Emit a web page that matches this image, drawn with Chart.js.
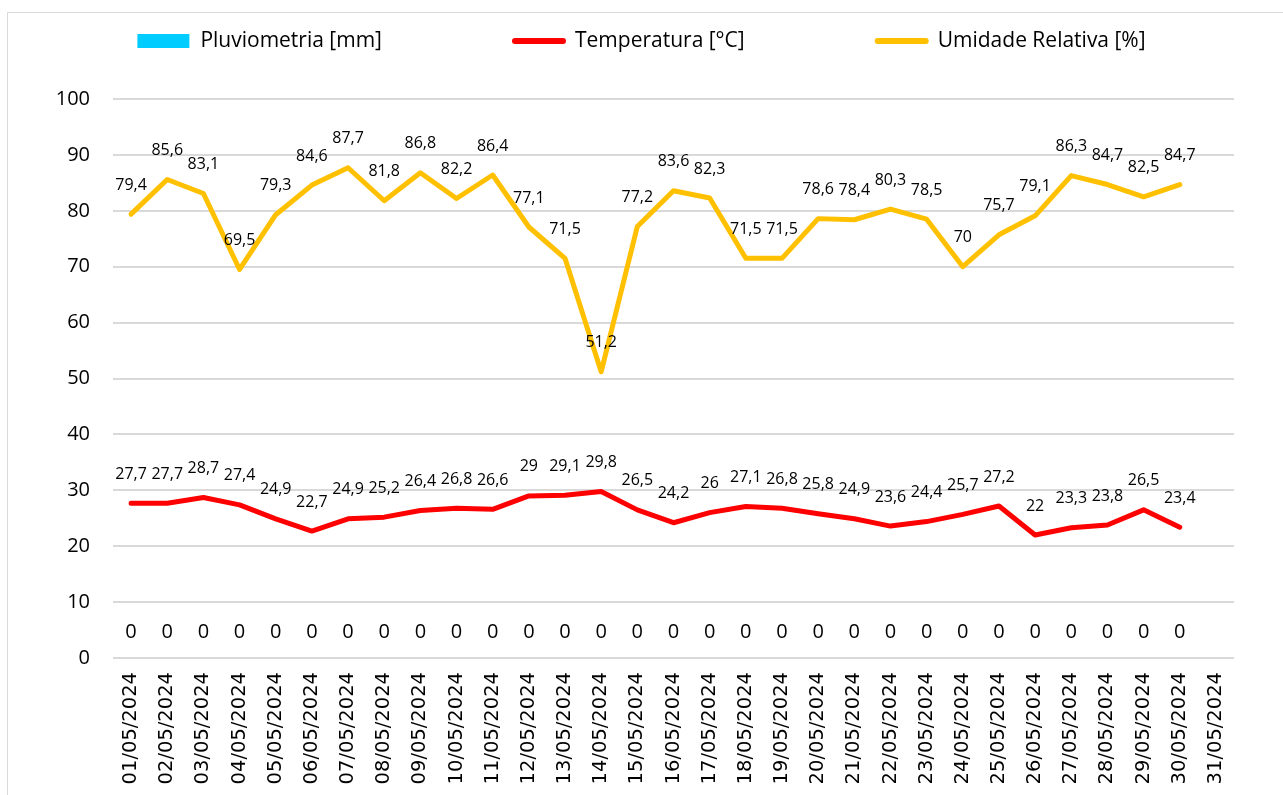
<!DOCTYPE html>
<html>
<head>
<meta charset="utf-8">
<script src="https://cdn.jsdelivr.net/npm/chart.js@4.4.1/dist/chart.umd.min.js"></script>
<style>
  html, body { margin: 0; padding: 0; background: #fff; }
  canvas { display: block; }
</style>
</head>
<body>
<canvas id="climaChart" width="1283" height="795"></canvas>
<script>
var dias = ["01/05/2024", "02/05/2024", "03/05/2024", "04/05/2024", "05/05/2024", "06/05/2024",
  "07/05/2024", "08/05/2024", "09/05/2024", "10/05/2024", "11/05/2024", "12/05/2024",
  "13/05/2024", "14/05/2024", "15/05/2024", "16/05/2024", "17/05/2024", "18/05/2024",
  "19/05/2024", "20/05/2024", "21/05/2024", "22/05/2024", "23/05/2024", "24/05/2024",
  "25/05/2024", "26/05/2024", "27/05/2024", "28/05/2024", "29/05/2024", "30/05/2024", "31/05/2024"];

var pluviometria = [0, 0, 0, 0, 0, 0, 0, 0, 0, 0, 0, 0, 0, 0, 0,
  0, 0, 0, 0, 0, 0, 0, 0, 0, 0, 0, 0, 0, 0, 0, null];

var temperatura = [27.7, 27.7, 28.7, 27.4, 24.9, 22.7, 24.9, 25.2, 26.4, 26.8, 26.6, 29, 29.1, 29.8, 26.5,
  24.2, 26, 27.1, 26.8, 25.8, 24.9, 23.6, 24.4, 25.7, 27.2, 22, 23.3, 23.8, 26.5, 23.4, null];

var umidade = [79.4, 85.6, 83.1, 69.5, 79.3, 84.6, 87.7, 81.8, 86.8, 82.2, 86.4, 77.1, 71.5, 51.2, 77.2,
  83.6, 82.3, 71.5, 71.5, 78.6, 78.4, 80.3, 78.5, 70, 75.7, 79.1, 86.3, 84.7, 82.5, 84.7, null];

// rotulos de dados acima de cada ponto / barra
var rotulos = {
  id: "rotulos",
  afterDatasetsDraw: function (chart) {
    var ctx = chart.ctx;
    ctx.save();
    ctx.fillStyle = "#000";
    ctx.textAlign = "center";
    ctx.textBaseline = "middle";
    chart.data.datasets.forEach(function (ds, i) {
      var meta = chart.getDatasetMeta(i);
      var barra = ds.type === "bar";
      ctx.font = barra ? "20px 'Open Sans'" : "16px 'Open Sans'";
      var desloc = barra ? 26 : 29;
      meta.data.forEach(function (el, j) {
        var v = ds.data[j];
        if (v === null || v === undefined) return;
        ctx.fillText(String(v).replace(".", ","), el.x, el.y - desloc);
      });
    });
    ctx.restore();
  }
};

// legenda no topo + moldura cinza
var legenda = {
  id: "legenda",
  beforeDraw: function (chart) {
    var ctx = chart.ctx;
    ctx.save();
    ctx.strokeStyle = "#d9d9d9";
    ctx.lineWidth = 1;
    ctx.beginPath();
    ctx.moveTo(7.5, chart.height);
    ctx.lineTo(7.5, 12.5);
    ctx.lineTo(chart.width, 12.5);
    ctx.stroke();
    ctx.restore();
  },
  afterDraw: function (chart) {
    var ctx = chart.ctx;
    ctx.save();
    ctx.font = "21px 'Open Sans'";
    ctx.textBaseline = "middle";
    var sw = 54, gapTexto = 9, gapItem = 130, y = 41;
    var itens = chart.data.datasets;
    var total = 0;
    itens.forEach(function (ds, i) {
      total += sw + gapTexto + ctx.measureText(ds.label).width;
      if (i > 0) total += gapItem;
    });
    var x = (chart.width - total) / 2;
    itens.forEach(function (ds) {
      if (ds.type === "bar") {
        ctx.fillStyle = ds.backgroundColor;
        ctx.fillRect(x, y - 7, sw - 2, 14);
      } else {
        ctx.strokeStyle = ds.borderColor;
        ctx.lineWidth = 6;
        ctx.lineCap = "round";
        ctx.beginPath();
        ctx.moveTo(x + 3, y);
        ctx.lineTo(x + sw - 3, y);
        ctx.stroke();
      }
      ctx.fillStyle = "#000";
      ctx.fillText(ds.label, x + sw + gapTexto, y);
      x += sw + gapTexto + ctx.measureText(ds.label).width + gapItem;
    });
    ctx.restore();
  }
};

var ctx = document.getElementById("climaChart").getContext("2d");
var climaChart = new Chart(ctx, {
  type: "bar",
  data: {
    labels: dias,
    datasets: [
      {
        type: "bar",
        label: "Pluviometria [mm]",
        data: pluviometria,
        backgroundColor: "#00CCFF",
        borderWidth: 0,
      },
      {
        type: "line",
        label: "Temperatura [°C]",
        data: temperatura,
        borderColor: "#FF0000",
        backgroundColor: "#FF0000",
        borderWidth: 5,
        pointRadius: 0,
        tension: 0,
        borderCapStyle: "round",
        borderJoinStyle: "round",
      },
      {
        type: "line",
        label: "Umidade Relativa [%]",
        data: umidade,
        borderColor: "#FFC000",
        backgroundColor: "#FFC000",
        borderWidth: 5,
        pointRadius: 0,
        tension: 0,
        borderCapStyle: "round",
        borderJoinStyle: "round",
      },
    ],
  },
  options: {
    responsive: false,
    animation: false,
    layout: {
      padding: { top: 99, right: 49, bottom: 0, left: 0 },
    },
    plugins: {
      legend: { display: false },
      tooltip: { enabled: false },
    },
    scales: {
      x: {
        grid: { display: false, drawTicks: false },
        border: { display: false },
        ticks: {
          autoSkip: false,
          minRotation: 90,
          maxRotation: 90,
          padding: 14,
          color: "#000",
          font: { family: "DejaVu Sans", size: 19.5 },
        },
        afterFit: function (scale) {
          scale.height = 137;
        },
      },
      y: {
        min: 0,
        max: 100,
        grid: { color: "#d9d9d9", lineWidth: 2, drawTicks: false },
        border: { display: false },
        ticks: {
          stepSize: 10,
          padding: 23,
          color: "#000",
          font: { family: "Open Sans", size: 20 },
        },
        afterFit: function (scale) {
          scale.width = 113;
        },
      },
    },
  },
  plugins: [rotulos, legenda],
});
</script>
</body>
</html>
